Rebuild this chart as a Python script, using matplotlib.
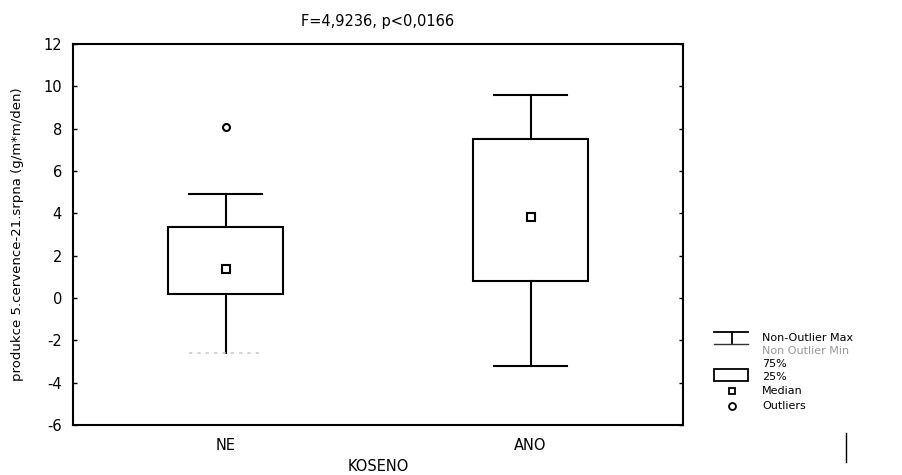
import matplotlib
matplotlib.use("Agg")
import matplotlib.pyplot as plt
from matplotlib.lines import Line2D
from matplotlib.patches import Rectangle

# data
groups = ["NE", "ANO"]
q1 = [0.2, 0.8]
q3 = [3.35, 7.5]
medians = [1.37, 3.83]
whisker_lo = [-2.6, -3.2]
whisker_hi = [4.9, 9.6]
outliers = [[8.1], []]

title = "F=4,9236, p<0,0166"
xlabel = "KOSENO"
ylabel = "produkce 5.cervence-21.srpna (g/m*m/den)"
yticks = [-6, -4, -2, 0, 2, 4, 6, 8, 10, 12]

W, H = 902, 475
plt.rcParams["font.family"] = ["DejaVu Sans"]
plt.rcParams["axes.unicode_minus"] = False

fig = plt.figure(figsize=(W / 100, H / 100), dpi=100)
ax = fig.add_axes([73 / W, 1 - 425 / H, (683 - 73) / W, (425 - 44) / H])

stats = []
for i, g in enumerate(groups):
    stats.append(dict(label=g, med=medians[i], q1=q1[i], q3=q3[i],
                      whislo=whisker_lo[i], whishi=whisker_hi[i], fliers=outliers[i]))

lw = 1.5
parts = ax.bxp(stats, positions=range(len(groups)), widths=0.38, capwidths=0.24,
               patch_artist=True,
               boxprops=dict(facecolor="white", edgecolor="black", linewidth=lw),
               whiskerprops=dict(color="black", linewidth=lw),
               capprops=dict(color="black", linewidth=lw),
               medianprops=dict(visible=False),
               flierprops=dict(marker="o", markersize=5, markerfacecolor="white",
                               markeredgecolor="black", markeredgewidth=1.5))
# the NE lower cap is barely visible in the scan
parts["caps"][0].set_color("#cccccc")
parts["caps"][0].set_linestyle((0, (2, 3)))
parts["caps"][0].set_linewidth(1.2)

ax.plot(range(len(groups)), medians, "s", markersize=6, markerfacecolor="white",
        markeredgecolor="black", markeredgewidth=1.5, linestyle="none")

ax.set_xlim(-0.5, 1.5)
ax.set_ylim(-6, 12)
ax.set_yticks(yticks)
ax.set_xticks(range(len(groups)))
ax.set_xticklabels(groups)
ax.tick_params(axis="y", direction="in", length=3, width=1, right=True, labelsize=10.5, pad=8)
ax.tick_params(axis="x", length=0, labelsize=10.5, pad=9)
for s in ax.spines.values():
    s.set_linewidth(1.5)

ax.set_title(title, fontsize=10.5, pad=13)
ax.set_xlabel(xlabel, fontsize=10.5)
ax.xaxis.set_label_coords(0.5, -0.088)
fig.text(18 / W, 1 - 234 / H, ylabel, rotation=90, ha="center", va="center", fontsize=9.5)


# legend, drawn in pixel positions
def px(x, y):
    return x / W, 1 - y / H


def fline(x0, y0, x1, y1, **kw):
    (a, b), (c, d) = px(x0, y0), px(x1, y1)
    fig.add_artist(Line2D([a, c], [b, d], transform=fig.transFigure, **kw))


fline(714, 332, 748, 332, color="black", lw=1.3)
fline(732, 332, 732, 344, color="black", lw=1.3)
fline(714, 344, 748, 344, color="#333333", lw=1.0)
bx, by = px(714, 381)
fig.add_artist(Rectangle((bx, by), 34 / W, 12 / H, transform=fig.transFigure,
                         facecolor="white", edgecolor="black", lw=1.3))
mx, my = px(732, 391)
fig.add_artist(Line2D([mx], [my], marker="s", markersize=5, markerfacecolor="white",
                      markeredgecolor="black", markeredgewidth=1.3, transform=fig.transFigure))
ox, oy = px(732, 406)
fig.add_artist(Line2D([ox], [oy], marker="o", markersize=5, markerfacecolor="white",
                      markeredgecolor="black", markeredgewidth=1.3, transform=fig.transFigure))

legend_rows = [("Non-Outlier Max", 338, "black"),
               ("Non Outlier Min", 351, "#999999"),
               ("75%", 364, "black"),
               ("25%", 377, "black"),
               ("Median", 391, "black"),
               ("Outliers", 406, "black")]
for txt, y, c in legend_rows:
    tx, ty = px(762, y)
    fig.text(tx, ty, txt, ha="left", va="center", fontsize=8, color=c)

# small scan mark at bottom right
fline(846, 433, 846, 462, color="black", lw=1.0)

fig.savefig("out.png", dpi=100)
